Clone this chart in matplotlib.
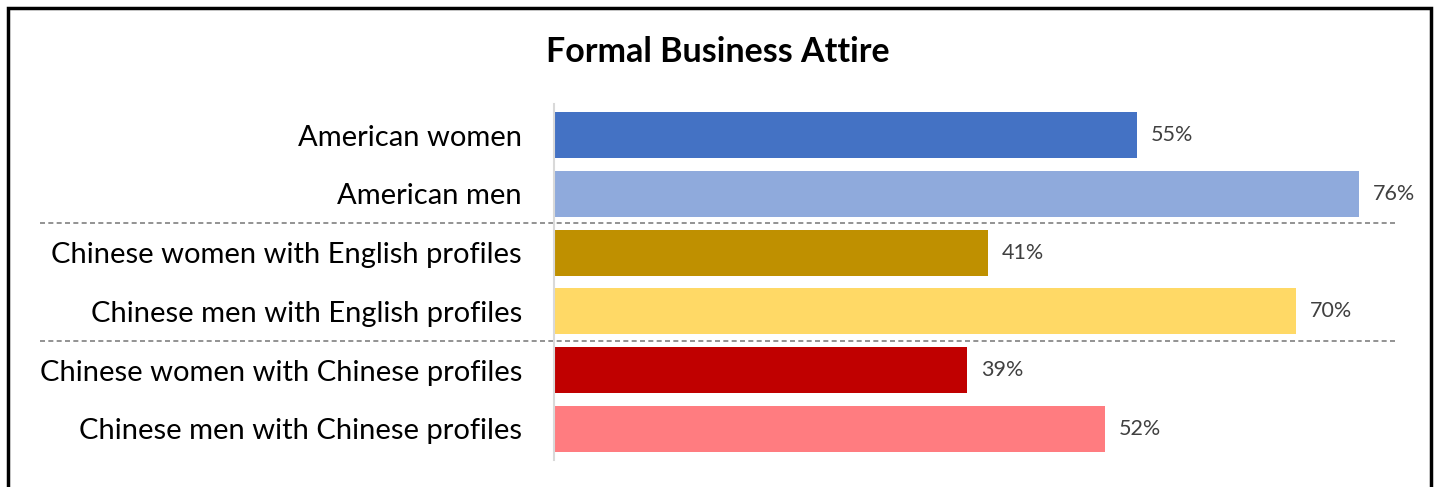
import matplotlib
matplotlib.use('Agg')
from matplotlib import pyplot as plt
from matplotlib.patches import Rectangle
import matplotlib.transforms as mtransforms

plt.rcParams['font.family'] = ['Lato', 'DejaVu Sans']

labels = ['American women', 'American men',
          'Chinese women with English profiles', 'Chinese men with English profiles',
          'Chinese women with Chinese profiles', 'Chinese men with Chinese profiles']
values = [0.55, 0.76, 0.41, 0.70, 0.39, 0.52]
colors = ['#4472C4', '#8FAADC', '#BF9000', '#FFD966', '#C00000', '#FF7C80']

fig = plt.figure(figsize=(14.4, 4.87), dpi=100)
ax = fig.add_axes([554 / 1440, 1 - 460 / 487, 837 / 1440, 356 / 487])

ypos = list(range(len(labels)))
ax.barh(ypos, values, height=0.78, color=colors)
for y, v in zip(ypos, values):
    ax.text(v + 0.013, y, f'{v:.0%}', va='center', ha='left', fontsize=15.5, color='#404040')

ax.set_xlim(0, 0.79)
ax.set_ylim(5.53, -0.53)
ax.set_yticks(ypos)
ax.set_yticklabels(labels, fontsize=21)
ax.tick_params(axis='y', length=0, pad=23)
ax.set_xticks([])
for s in ['top', 'right', 'bottom']:
    ax.spines[s].set_visible(False)
ax.spines['left'].set_color('#d9d9d9')
ax.spines['left'].set_linewidth(1.5)

# dashed separators between groups
trans = mtransforms.blended_transform_factory(fig.transFigure, ax.transData)
for yy in [1.5, 3.5]:
    ax.plot([40 / 1440, 1395 / 1440], [yy, yy], transform=trans, color='#808080',
            ls=(0, (3, 2)), lw=1.2, clip_on=False)

fig.text(718 / 1440, 1 - 52 / 487, 'Formal Business Attire', ha='center', va='center',
         fontsize=24.5, fontweight='bold')

# outer frame
fig.patches.append(Rectangle((8 / 1440, -0.1), 1423 / 1440, 1.1 - 8 / 487,
                             transform=fig.transFigure, fill=False, ec='black', lw=2.5))

fig.savefig('out.png', dpi=100)
